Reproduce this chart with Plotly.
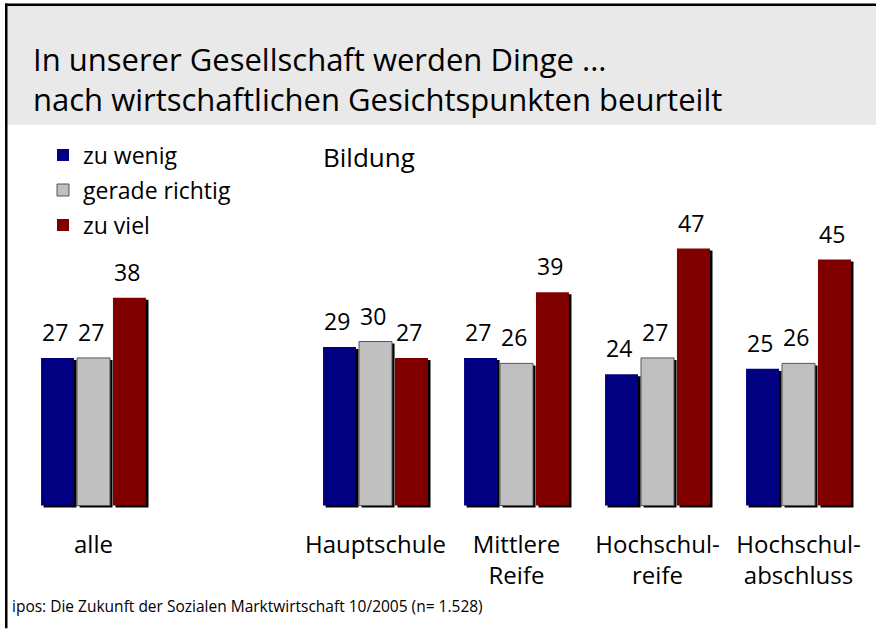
import plotly.graph_objects as go

# Daten
kategorien = ["alle", "Hauptschule", "Mittlere<br>Reife", "Hochschul-<br>reife", "Hochschul-<br>abschluss"]
slots = [0, 2, 3, 4, 5]
zu_wenig = [27, 29, 27, 24, 25]
gerade_richtig = [27, 30, 26, 27, 26]
zu_viel = [38, 27, 39, 47, 45]

W, H = 876, 629
BASE_PX, TOP_PX = 511.5, 182.5  # plot area bottom/top in pixels


def px(x):
    return x / W


def py(y):
    return (BASE_PX - y) / (BASE_PX - TOP_PX)


FONT = "Open Sans"
BAR_W = 0.234
series = [
    ("zu wenig", zu_wenig, "#000080", None, -0.372),
    ("gerade richtig", gerade_richtig, "#c0c0c0", "#555555", -0.117),
    ("zu viel", zu_viel, "#800000", None, 0.138),
]

fig = go.Figure()

# Schatten
for name, vals, col, line, off in series:
    fig.add_trace(go.Bar(
        x=slots, y=vals, base=-0.37, width=BAR_W, offset=off + 0.018,
        marker=dict(color="black", line=dict(width=0)),
        showlegend=False, hoverinfo="skip",
    ))

for name, vals, col, line, off in series:
    fig.add_trace(go.Bar(
        x=slots, y=vals, name=name, legendgroup=name, width=BAR_W, offset=off,
        marker=dict(color=col, line=dict(color=line or col, width=1 if line else 0)),
    ))
    for s, v in zip(slots, vals):
        fig.add_annotation(
            x=s + off + BAR_W / 2 - 0.02, y=v, text=str(v), showarrow=False,
            yanchor="bottom", yshift=8, font=dict(family=FONT, size=23, color="black"),
        )

# Hintergrund / Rahmen
fig.add_shape(type="rect", xref="paper", yref="paper", x0=px(7), x1=1, y0=py(124), y1=py(5),
              fillcolor="#e9e9e9", line_width=0, layer="below")
fig.add_shape(type="rect", xref="paper", yref="paper", x0=px(5), x1=1, y0=py(5), y1=py(2.5),
              fillcolor="black", line_width=0)
fig.add_shape(type="rect", xref="paper", yref="paper", x0=px(5), x1=px(7.5), y0=py(629), y1=py(2.5),
              fillcolor="black", line_width=0)

fig.add_annotation(xref="paper", yref="paper", x=px(321), y=py(156), xanchor="left", yanchor="middle",
                   text="Bildung", showarrow=False, font=dict(family=FONT, size=26, color="black"))
fig.add_annotation(xref="paper", yref="paper", x=px(10), y=py(607), xanchor="left", yanchor="middle",
                   text="ipos: Die Zukunft der Sozialen Marktwirtschaft 10/2005 (n= 1.528)", showarrow=False,
                   font=dict(family=FONT, size=15.5, color="black"))

fig.update_layout(
    width=W, height=H,
    margin=dict(l=0, r=0, t=TOP_PX, b=H - BASE_PX),
    paper_bgcolor="white", plot_bgcolor="white",
    barmode="overlay",
    title=dict(
        text="In unserer Gesellschaft werden Dinge ...<br>nach wirtschaftlichen Gesichtspunkten beurteilt",
        x=px(33), xanchor="left", y=1 - 71 / H, yanchor="middle",
        font=dict(family=FONT, size=31, color="black"),
    ),
    legend=dict(
        x=px(43), y=py(133), xanchor="left", yanchor="top",
        font=dict(family=FONT, size=23, color="black"),
        tracegroupgap=2, bgcolor="rgba(0,0,0,0)",
    ),
    xaxis=dict(
        range=[-93.5 / 141, (W - 93.5) / 141],
        tickvals=slots, ticktext=kategorien, ticks="", showline=False, showgrid=False,
        zeroline=False, tickfont=dict(family=FONT, size=24, color="black"),
        ticklabelstandoff=17,
    ),
    yaxis=dict(range=[-1, 59], visible=False, showgrid=False, zeroline=False),
    showlegend=True,
)

fig.write_html("out.html", config={"displayModeBar": False},
               post_script="document.body.style.margin='0';document.body.style.overflow='hidden';")
